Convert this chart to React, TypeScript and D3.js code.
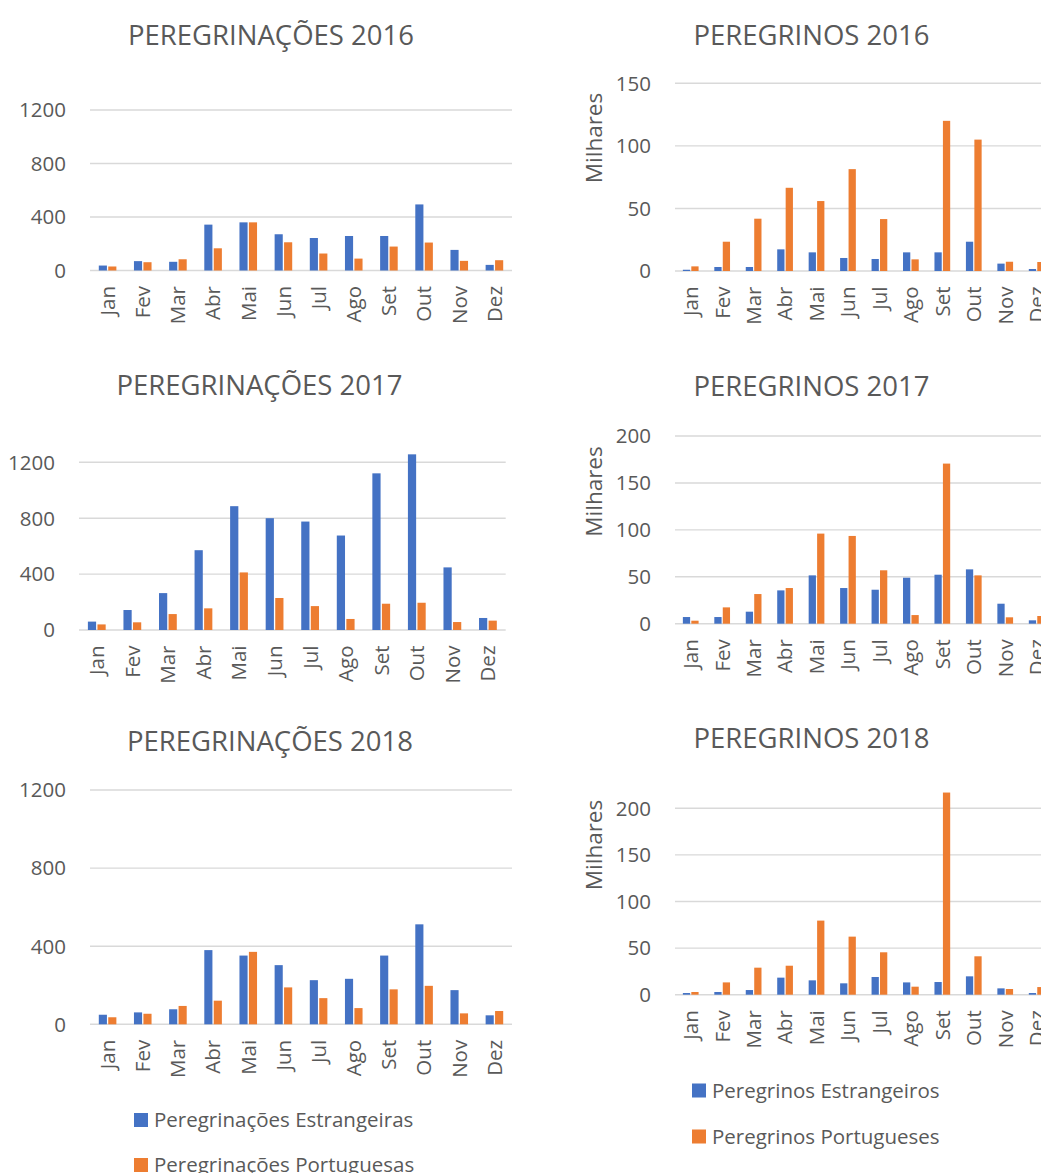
import { useEffect, useRef } from "react";
import * as d3 from "d3";

const months = ["Jan", "Fev", "Mar", "Abr", "Mai", "Jun", "Jul", "Ago", "Set", "Out", "Nov", "Dez"];

// peregrinações (número de grupos)
const peregrinacoesEstr2016 = [37, 70, 65, 343, 360, 271, 243, 258, 258, 494, 154, 42];
const peregrinacoesPort2016 = [30, 62, 84, 166, 360, 211, 127, 89, 179, 209, 72, 77];
const peregrinacoesEstr2017 = [60, 143, 264, 571, 886, 800, 776, 676, 1121, 1257, 448, 86];
const peregrinacoesPort2017 = [40, 55, 114, 155, 412, 229, 171, 79, 188, 195, 57, 67];
const peregrinacoesEstr2018 = [49, 61, 77, 380, 352, 303, 226, 233, 352, 512, 175, 46];
const peregrinacoesPort2018 = [36, 54, 94, 121, 371, 189, 134, 83, 179, 197, 56, 68];

// peregrinos (milhares)
const peregrinosEstr2016 = [1, 3.2, 3.2, 17.3, 14.9, 10.4, 9.6, 14.9, 14.9, 23.4, 5.9, 1.6];
const peregrinosPort2016 = [3.7, 23.4, 41.8, 66.5, 55.9, 81.4, 41.5, 9.3, 120, 105, 7.4, 7.2];
const peregrinosEstr2017 = [7.1, 7.1, 12.8, 35.5, 51.5, 38, 36.2, 49, 52.2, 57.9, 21.3, 3.6];
const peregrinosPort2017 = [3.2, 17.4, 31.6, 38, 96, 93.5, 56.9, 9.2, 170.6, 51.5, 6.8, 8.2];
const peregrinosEstr2018 = [1.8, 2.9, 5, 18.3, 15.4, 12.2, 19, 13.2, 13.6, 19.7, 6.8, 1.8];
const peregrinosPort2018 = [2.9, 13.2, 29, 31.1, 79.5, 62.3, 45.5, 8.6, 216.9, 41.2, 6.1, 8.2];

const ticksPeregrinacoes = [0, 400, 800, 1200];
const ticksPeregrinos2016 = [0, 50, 100, 150];
const ticksPeregrinos = [0, 50, 100, 150, 200];

const legendPeregrinacoes = ["Peregrinações Estrangeiras", "Peregrinações Portuguesas"];
const legendPeregrinos = ["Peregrinos Estrangeiros", "Peregrinos Portugueses"];

const BLUE = "#4472C4";
const ORANGE = "#ED7D31";
const TEXT = "#595959";
const GRID = "#D9D9D9";
const FONT = "'Open Sans', 'Noto Sans', sans-serif";

const panels = [
  { title: "PEREGRINAÇÕES 2016", estr: peregrinacoesEstr2016, port: peregrinacoesPort2016, ticks: ticksPeregrinacoes,
    x0: 90, x1: 512, yZero: 270.5, yTop: 110, titleX: 271, titleY: 45, unitY: null },
  { title: "PEREGRINOS 2016", estr: peregrinosEstr2016, port: peregrinosPort2016, ticks: ticksPeregrinos2016,
    x0: 675, x1: 1052.4, yZero: 271, yTop: 83.3, titleX: 811.5, titleY: 44.5, unitY: 138 },
  { title: "PEREGRINAÇÕES 2017", estr: peregrinacoesEstr2017, port: peregrinacoesPort2017, ticks: ticksPeregrinacoes,
    x0: 79, x1: 505.7, yZero: 630, yTop: 462.3, titleX: 259.5, titleY: 394.5, unitY: null },
  { title: "PEREGRINOS 2017", estr: peregrinosEstr2017, port: peregrinosPort2017, ticks: ticksPeregrinos,
    x0: 675, x1: 1052.4, yZero: 623.7, yTop: 436, titleX: 811.5, titleY: 395.5, unitY: 491.5 },
  { title: "PEREGRINAÇÕES 2018", estr: peregrinacoesEstr2018, port: peregrinacoesPort2018, ticks: ticksPeregrinacoes,
    x0: 90, x1: 512, yZero: 1024.3, yTop: 790, titleX: 270, titleY: 751, unitY: null },
  { title: "PEREGRINOS 2018", estr: peregrinosEstr2018, port: peregrinosPort2018, ticks: ticksPeregrinos,
    x0: 675, x1: 1052.4, yZero: 994.7, yTop: 808.3, titleX: 811.5, titleY: 747.7, unitY: 845 },
];

const legends = [
  { labels: legendPeregrinacoes, x: 134, y: 1113, step: 45 },
  { labels: legendPeregrinos, x: 692, y: 1083.5, step: 46 },
];

const App = () => {
  const ref = useRef<SVGSVGElement>(null);

  useEffect(() => {
    const svg = d3.select(ref.current);
    svg.selectAll("*").remove();

    panels.forEach((p) => {
      const g = svg.append("g").style("font-family", FONT);
      const x = d3.scaleBand().domain(months).range([p.x0, p.x1]).paddingInner(0.5).paddingOuter(0.25);
      const xs = d3.scaleBand().domain(["estr", "port"]).range([0, x.bandwidth()]).paddingInner(0.14);
      const y = d3.scaleLinear().domain([0, p.ticks[p.ticks.length - 1]]).range([p.yZero, p.yTop]);

      // gridlines
      g.selectAll("line.grid")
        .data(p.ticks)
        .enter()
        .append("line")
        .attr("x1", p.x0)
        .attr("x2", p.x1)
        .attr("y1", (d) => y(d))
        .attr("y2", (d) => y(d))
        .attr("stroke", GRID)
        .attr("stroke-width", 1.4);

      // y tick labels
      g.selectAll("text.ytick")
        .data(p.ticks)
        .enter()
        .append("text")
        .attr("x", p.x0 - 24)
        .attr("y", (d) => y(d))
        .attr("dy", "0.36em")
        .attr("text-anchor", "end")
        .style("font-size", "20.5px")
        .style("fill", TEXT)
        .text((d) => d);

      // bars
      const rows = months.map((m, i) => ({ m, estr: p.estr[i], port: p.port[i] }));
      const groups = g.selectAll("g.month").data(rows).enter().append("g").attr("transform", (d) => `translate(${x(d.m)},0)`);
      groups
        .append("rect")
        .attr("x", xs("estr"))
        .attr("width", xs.bandwidth())
        .attr("y", (d) => y(d.estr))
        .attr("height", (d) => y(0) - y(d.estr))
        .style("fill", BLUE);
      groups
        .append("rect")
        .attr("x", xs("port"))
        .attr("width", xs.bandwidth())
        .attr("y", (d) => y(d.port))
        .attr("height", (d) => y(0) - y(d.port))
        .style("fill", ORANGE);

      // month labels, rotated (Dez on the right charts runs off the page, as in the original)
      g.selectAll("text.xtick")
        .data(months)
        .enter()
        .append("text")
        .attr("transform", (d) => `translate(${x(d) + x.bandwidth() / 2},${p.yZero + 15.5}) rotate(-90)`)
        .attr("dy", "0.36em")
        .attr("text-anchor", "end")
        .style("font-size", "20.5px")
        .style("fill", TEXT)
        .text((d) => d);

      // title
      g.append("text")
        .attr("x", p.titleX)
        .attr("y", p.titleY)
        .attr("text-anchor", "middle")
        .style("font-size", "27.5px")
        .style("fill", TEXT)
        .text(p.title);

      if (p.unitY !== null) {
        g.append("text")
          .attr("transform", `translate(594,${p.unitY}) rotate(-90)`)
          .attr("dy", "0.36em")
          .attr("text-anchor", "middle")
          .style("font-size", "22.5px")
          .style("fill", TEXT)
          .text("Milhares");
      }
    });

    legends.forEach((l) => {
      const g = svg.append("g").style("font-family", FONT);
      const items = g.selectAll("g.item").data(l.labels).enter().append("g")
        .attr("transform", (d, i) => `translate(${l.x},${l.y + i * l.step})`);
      items.append("rect").attr("width", 14).attr("height", 14).style("fill", (d, i) => (i === 0 ? BLUE : ORANGE));
      items
        .append("text")
        .attr("x", 20)
        .attr("y", 7)
        .attr("dy", "0.36em")
        .style("font-size", "20.5px")
        .style("fill", TEXT)
        .text((d) => d);
    });
  }, []);

  return (
    <svg
      ref={ref}
      width={1041}
      height={1173}
      style={{ position: "absolute", left: 0, top: 0, background: "#fff" }}
    />
  );
};

export default App;
